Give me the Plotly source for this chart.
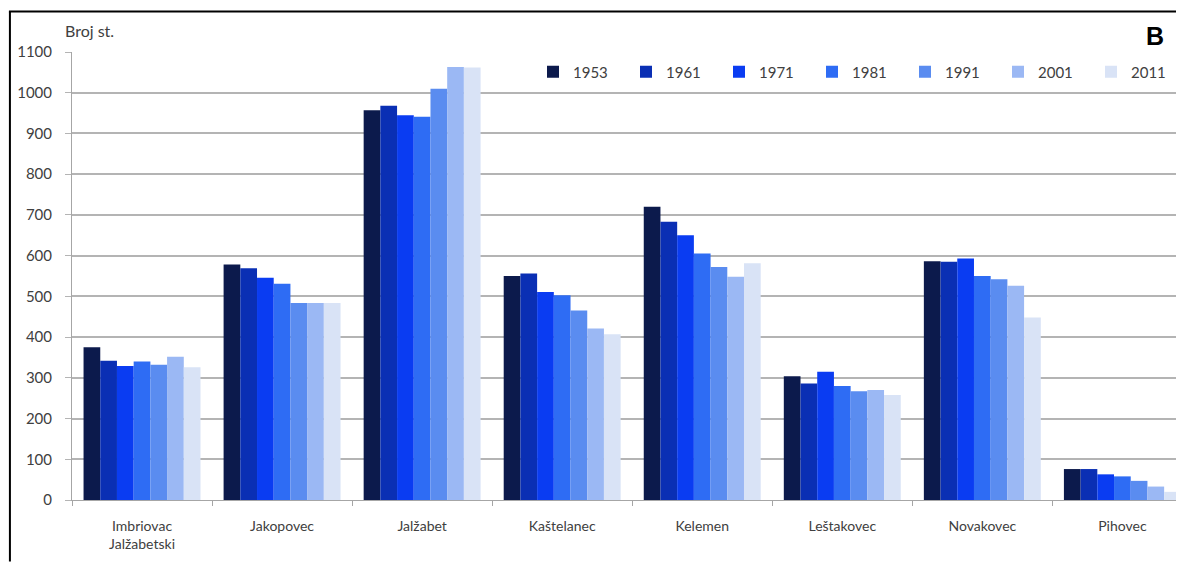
import plotly.graph_objects as go

categories = ["Imbriovac<br>Jalžabetski", "Jakopovec", "Jalžabet", "Kaštelanec",
              "Kelemen", "Leštakovec", "Novakovec", "Pihovec"]
years = ["1953", "1961", "1971", "1981", "1991", "2001", "2011"]

v1953 = [375, 578, 957, 550, 720, 304, 586, 76]
v1961 = [342, 569, 968, 556, 683, 286, 585, 76]
v1971 = [329, 546, 945, 511, 650, 315, 593, 63]
v1981 = [340, 531, 941, 503, 605, 280, 550, 58]
v1991 = [332, 484, 1010, 465, 572, 267, 542, 47]
v2001 = [352, 484, 1063, 421, 548, 270, 526, 33]
v2011 = [326, 484, 1062, 407, 581, 258, 448, 20]

series = [v1953, v1961, v1971, v1981, v1991, v2001, v2011]
colors = ["#0c1a4c", "#0a2fb4", "#0a3cf2", "#2e6cf4", "#5a8cf0", "#9bb8f4", "#d9e3f6"]

# page body has an 8px margin, so figure coords = screen coords - 8
W, H = 1176, 554
ml, mr, mt, mb = 63.5, 0, 44, 61.5
pw, ph = W - ml - mr, H - mt - mb
n_visible = 7.89  # visible category slots (last group touches the right edge)

FONT = "Lato, Open Sans, sans-serif"
TXT = "#404040"

fig = go.Figure()
for y, vals, c in zip(years, series, colors):
    fig.add_trace(go.Bar(x=categories, y=vals, name=y, marker_color=c,
                         marker_line_width=0))


def px2paper_x(p):
    return (p - ml) / pw


def px2paper_y(p):
    return 1 - (p - mt) / ph


fig.update_layout(
    width=W, height=H,
    margin=dict(l=ml, r=mr, t=mt, b=mb, pad=0),
    paper_bgcolor="white", plot_bgcolor="white",
    barmode="group", bargap=0.165, bargroupgap=0,
    font=dict(family=FONT, size=14, color=TXT),
    showlegend=True,
    legend=dict(orientation="h", x=px2paper_x(528), xanchor="left",
                y=px2paper_y(64), yanchor="middle",
                entrywidth=48, entrywidthmode="pixels", itemwidth=30,
                font=dict(family=FONT, size=15, color=TXT),
                bgcolor="rgba(0,0,0,0)"),
    xaxis=dict(range=[-0.5, -0.5 + n_visible], showgrid=False,
               showline=True, linecolor="#a6a6a6", linewidth=1,
               ticks="outside", tickson="boundaries", ticklen=5, tickcolor="#a6a6a6",
               ticklabelstandoff=13,
               tickfont=dict(family=FONT, size=14, color=TXT),
               fixedrange=True),
    yaxis=dict(range=[0, 1100], dtick=100, showgrid=True, gridcolor="#b4b4b4", gridwidth=1.6,
               showline=True, linecolor="#a6a6a6", linewidth=1,
               ticks="outside", ticklen=6, tickcolor="#b4b4b4",
               ticklabelstandoff=10,
               tickfont=dict(family=FONT, size=15, color=TXT),
               zeroline=False, fixedrange=True),
    annotations=[
        dict(text="Broj st.", xref="paper", yref="paper",
             x=px2paper_x(54), y=px2paper_y(22), xanchor="left", yanchor="middle",
             showarrow=False, font=dict(family=FONT, size=16, color=TXT)),
        dict(text="<b>B</b>", xref="paper", yref="paper",
             x=px2paper_x(1165), y=px2paper_y(28), xanchor="right", yanchor="middle",
             showarrow=False, font=dict(family="Arial, Liberation Sans, sans-serif", size=25, color="#000000")),
    ],
    shapes=[
        dict(type="line", xref="paper", yref="paper",
             x0=px2paper_x(0), x1=px2paper_x(W), y0=px2paper_y(3.5), y1=px2paper_y(3.5),
             line=dict(color="black", width=2)),
        dict(type="line", xref="paper", yref="paper",
             x0=px2paper_x(1), x1=px2paper_x(1), y0=px2paper_y(3.5), y1=px2paper_y(H),
             line=dict(color="black", width=2)),
    ],
)

fig.write_html("out.html")
